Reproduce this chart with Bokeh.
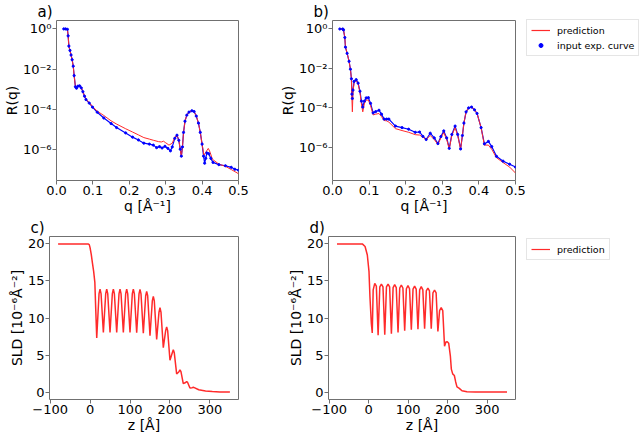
from bokeh.plotting import figure
from bokeh.models import (Range1d, FixedTicker, CustomJSTickFormatter, Legend,
                          LegendItem, Spacer)
from bokeh.layouts import column, row
from bokeh.embed import file_html
from bokeh.resources import INLINE

# ---------------- data ----------------
# panel a) reflectivity
q_a_pred = [0.020, 0.025, 0.030, 0.032, 0.034, 0.037, 0.040, 0.043, 0.046, 0.0485,
            0.052, 0.055, 0.059, 0.0635, 0.068, 0.0725, 0.077, 0.081, 0.090, 0.099,
            0.112, 0.130, 0.150, 0.165, 0.190, 0.209, 0.225, 0.240, 0.255, 0.266,
            0.280, 0.288, 0.294, 0.300, 0.309, 0.318, 0.325, 0.331, 0.336, 0.340,
            0.343, 0.346, 0.349, 0.353, 0.358, 0.364, 0.372, 0.378, 0.384, 0.390,
            0.395, 0.400, 0.405, 0.410, 0.417, 0.422, 0.428, 0.446, 0.464, 0.481,
            0.500]
R_a_pred = [1.0, 1.0, 0.95, 0.45, 0.14, 0.085, 0.05, 0.029, 0.0138, 4.7e-3,
            1.3e-3, 1.1e-3, 1.4e-3, 1.5e-3, 1.2e-3, 7.6e-4, 4.5e-4, 3.1e-4, 2.1e-4, 1.35e-4,
            7.9e-5, 4.8e-5, 2.6e-5, 1.8e-5, 1.05e-5, 7.2e-6, 5.2e-6, 3.8e-6, 3.2e-6, 2.8e-6,
            2.4e-6, 2.3e-6, 2.5e-6, 2.1e-6, 1.6e-6, 2.0e-6, 4.0e-6, 5.1e-6, 2.8e-6, 1.0e-6,
            4.2e-7, 1.26e-6, 6.9e-6, 2.5e-5, 5.0e-5, 7.1e-5, 8.3e-5, 7.6e-5, 4.5e-5, 2.0e-5,
            6.9e-6, 1.8e-6, 5.0e-7, 7.1e-7, 1.1e-6, 7.1e-7, 3.2e-7, 1.8e-7, 1.4e-7, 9.5e-8,
            6.0e-8]
q_a_exp = [0.020, 0.025, 0.030, 0.032, 0.034, 0.037, 0.040, 0.043, 0.046, 0.0485,
           0.052, 0.055, 0.059, 0.0635, 0.068, 0.0725, 0.077, 0.081, 0.090, 0.099,
           0.112, 0.130, 0.150, 0.165, 0.190, 0.209, 0.225, 0.240, 0.255, 0.266,
           0.275, 0.283, 0.290, 0.298, 0.306, 0.313, 0.318, 0.325, 0.331, 0.336,
           0.340, 0.343, 0.346, 0.349, 0.353, 0.358, 0.364, 0.372, 0.378, 0.384,
           0.390, 0.395, 0.400, 0.404, 0.407, 0.410, 0.413, 0.418, 0.424, 0.430,
           0.446, 0.464, 0.480, 0.490, 0.500]
R_a_exp = [1.0, 1.0, 0.95, 0.45, 0.14, 0.085, 0.05, 0.029, 0.0138, 4.7e-3,
           1.3e-3, 1.1e-3, 1.4e-3, 1.45e-3, 1.15e-3, 7.4e-4, 4.4e-4, 3.0e-4, 2.0e-4, 1.25e-4,
           7.0e-5, 3.6e-5, 1.9e-5, 1.2e-5, 6.5e-6, 4.0e-6, 2.9e-6, 2.0e-6, 1.8e-6, 1.6e-6,
           1.2e-6, 1.35e-6, 1.15e-6, 1.4e-6, 1.1e-6, 8.3e-7, 1.3e-6, 3.5e-6, 5.0e-6, 2.8e-6,
           1.0e-6, 4.5e-7, 1.3e-6, 6.9e-6, 2.5e-5, 5.0e-5, 7.1e-5, 8.3e-5, 7.6e-5, 4.5e-5,
           2.0e-5, 6.9e-6, 1.8e-6, 4.5e-7, 2.0e-7, 3.5e-7, 6.5e-7, 6.0e-7, 3.5e-7, 2.2e-7,
           1.7e-7, 1.5e-7, 1.25e-7, 1.0e-7, 9.0e-8]

# panel b) reflectivity
q_b_pred = [0.020, 0.028, 0.030, 0.0336, 0.0354, 0.040, 0.0453, 0.049, 0.0517, 0.0530,
            0.0543, 0.0560, 0.0590, 0.0648, 0.070, 0.075, 0.079, 0.0827, 0.087, 0.092,
            0.098, 0.104, 0.111, 0.118, 0.127, 0.134, 0.141, 0.148, 0.154, 0.172,
            0.190, 0.208, 0.226, 0.238, 0.247, 0.256, 0.267, 0.278, 0.288, 0.296,
            0.304, 0.312, 0.319, 0.326, 0.335, 0.342, 0.350, 0.355, 0.359, 0.365,
            0.372, 0.380, 0.388, 0.395, 0.406, 0.415, 0.426, 0.435, 0.448, 0.466,
            0.484, 0.500]
R_b_pred = [1.0, 1.0, 0.9, 0.37, 0.12, 0.058, 0.023, 9.1e-3, 3.0e-3, 3.0e-4,
            6.3e-5, 6.0e-4, 2.0e-3, 2.5e-3, 1.6e-3, 6.0e-4, 1.6e-4, 6.3e-5, 1.6e-4, 2.5e-4,
            2.5e-4, 1.3e-4, 4.4e-5, 4.8e-5, 5.2e-5, 3.6e-5, 2.3e-5, 2.2e-5, 1.9e-5, 8.9e-6,
            7.1e-6, 5.8e-6, 4.4e-6, 4.2e-6, 3.3e-6, 2.5e-6, 4.0e-6, 2.5e-6, 1.4e-6, 3.0e-6,
            5.6e-6, 2.5e-6, 8.3e-7, 4.0e-6, 1.0e-5, 4.0e-6, 8.3e-7, 4.0e-6, 1.7e-5, 6.3e-5,
            1.0e-4, 1.1e-4, 8.0e-5, 5.2e-5, 1.0e-5, 1.3e-6, 1.3e-6, 8.0e-7, 3.0e-7, 1.7e-7,
            1.0e-7, 5.0e-8]
q_b_exp = [0.020, 0.028, 0.030, 0.0336, 0.0354, 0.040, 0.0453, 0.049, 0.0517, 0.0530,
           0.0543, 0.0560, 0.0590, 0.0648, 0.070, 0.075, 0.079, 0.0827, 0.087, 0.092,
           0.098, 0.104, 0.111, 0.118, 0.127, 0.134, 0.141, 0.148, 0.154, 0.172,
           0.190, 0.208, 0.226, 0.238, 0.247, 0.256, 0.267, 0.278, 0.288, 0.296,
           0.304, 0.312, 0.319, 0.326, 0.335, 0.342, 0.350, 0.355, 0.359, 0.365,
           0.372, 0.380, 0.388, 0.395, 0.406, 0.415, 0.426, 0.435, 0.448, 0.466,
           0.484, 0.500]
R_b_exp = [1.0, 1.0, 0.9, 0.37, 0.12, 0.058, 0.023, 9.1e-3, 3.0e-3, 5.0e-4,
           3.0e-4, 8.0e-4, 2.2e-3, 2.7e-3, 1.8e-3, 7.0e-4, 2.2e-4, 1.1e-4, 2.2e-4, 3.2e-4,
           3.3e-4, 1.7e-4, 5.6e-5, 6.5e-5, 7.6e-5, 4.8e-5, 2.7e-5, 2.7e-5, 2.7e-5, 1.2e-5,
           1.0e-5, 8.3e-6, 5.8e-6, 6.0e-6, 3.6e-6, 2.5e-6, 5.2e-6, 3.0e-6, 1.55e-6, 3.5e-6,
           6.8e-6, 3.0e-6, 8.9e-7, 4.5e-6, 1.2e-5, 4.5e-6, 8.3e-7, 4.0e-6, 1.7e-5, 6.3e-5,
           1.0e-4, 1.1e-4, 8.0e-5, 5.2e-5, 1.0e-5, 1.5e-6, 2.0e-6, 1.1e-6, 3.5e-7, 2.0e-7,
           1.4e-7, 1.0e-7]

# panel c) SLD profile
z_c = [-80, -5, -2, 0, 3, 6, 9, 12, 14, 16.7,
       22.5, 25.0, 27.5, 33.3,
       39.2, 41.7, 44.2, 50.0,
       55.8, 58.3, 60.8, 66.7,
       72.5, 75.0, 77.5, 83.3,
       89.2, 91.7, 94.2, 100.0,
       105.8, 108.3, 110.8, 116.7,
       122.5, 125.0, 127.5, 133.3,
       139.2, 141.7, 144.2, 150.0,
       155.8, 158.3, 160.8, 166.7,
       172.5, 175.0, 177.5, 183.3,
       189.2, 191.7, 194.2, 200.0,
       205.8, 208.3, 210.8, 216.7,
       222.5, 225.0, 227.5, 233.3,
       239.2, 241.7, 244.2, 250.0,
       255.8, 258.3, 260.8, 272, 289, 306, 325, 350]
sld_c = [20.0, 20.0, 19.9, 19.5, 18.6, 17.4, 16.3, 14.8, 11.5, 7.3,
         13.3, 13.9, 13.3, 8.05,
         13.3, 13.9, 13.3, 8.05,
         13.3, 13.9, 13.3, 8.05,
         13.3, 13.9, 13.3, 8.05,
         13.3, 13.9, 13.3, 8.05,
         13.3, 13.9, 13.3, 8.0,
         13.25, 13.85, 13.25, 7.95,
         13.0, 13.6, 13.0, 7.6,
         12.3, 12.9, 12.3, 7.1,
         10.8, 11.4, 10.8, 6.0,
         8.3, 8.8, 8.3, 4.3,
         5.3, 5.7, 5.3, 2.45,
         2.75, 3.0, 2.75, 1.15,
         1.3, 1.4, 1.3, 0.55,
         0.6, 0.65, 0.6, 0.31, 0.16, 0.07, 0.02, 0.0]

# panel d) SLD profile
z_d = [-80, -16, -9, -3.3, 0.9, 3.4, 6.8, 9.2,
       11.5, 15.5, 19.5, 24.0,
       28.3, 32.3, 36.3, 40.8,
       45.1, 49.1, 53.1, 57.6,
       61.9, 65.9, 69.9, 74.4,
       78.7, 82.7, 86.7, 91.2,
       95.5, 99.5, 103.5, 108.0,
       112.3, 116.3, 120.3, 124.8,
       129.1, 133.1, 137.1, 141.6,
       145.9, 149.9, 153.9, 158.4,
       162.7, 166.7, 170.7, 175.2,
       179.5, 183.5, 187.5, 192.0,
       195.5, 199.0, 202.5, 206.7, 209.2, 212.6, 216.8, 220.2, 223.5, 229.4,
       236.1, 248.7, 270, 350]
sld_d = [20.0, 20.0, 19.65, 18.5, 16.3, 12.8, 9.3, 7.97,
         13.8, 14.67, 14.3, 7.66,
         14.2, 14.58, 14.2, 7.75,
         14.2, 14.58, 14.2, 7.88,
         14.1, 14.49, 14.1, 8.06,
         14.05, 14.45, 14.05, 8.28,
         13.95, 14.36, 13.95, 8.42,
         13.9, 14.31, 13.9, 8.5,
         13.8, 14.23, 13.8, 8.55,
         13.65, 14.05, 13.65, 8.55,
         13.4, 13.78, 13.4, 8.19,
         11.0, 11.4, 11.0, 6.2,
         6.75, 6.8, 6.6, 4.9, 3.1, 2.46, 2.24, 1.37, 0.7, 0.5,
         0.18, 0.05, 0.0, 0.0]

q_ticks = [0.0, 0.1, 0.2, 0.3, 0.4, 0.5]
R_ticks = [1e-6, 1e-4, 1e-2, 1e0]
z_ticks = [-100, 0, 100, 200, 300]
sld_ticks = [0, 5, 10, 15, 20]

# ---------------- styling ----------------
FONT = "DejaVu Sans"
FRAME = "#707070"
RED = "#ff2a2a"
BLUE = "#0000ff"

LOG_FMT = CustomJSTickFormatter(code="""
const e = Math.round(Math.log10(tick));
const m = {"-":"\u207b","0":"\u2070","1":"\u00b9","2":"\u00b2","3":"\u00b3","4":"\u2074",
           "5":"\u2075","6":"\u2076","7":"\u2077","8":"\u2078","9":"\u2079"};
let s = "";
for (const c of String(e)) { s += m[c]; }
return "10" + s;
""")
Q_FMT = CustomJSTickFormatter(code="return tick.toFixed(1);")
INT_FMT = CustomJSTickFormatter(code="""
return (tick < 0 ? "\u2212" : "") + Math.abs(tick).toFixed(0);
""")

ROW1_H, ROW2_H = 216, 219
LEFT_W, MID_W, LEG_W = 276, 250, 114


def make_fig(width, height, bl, br, bt, bb, x_range, y_range, title, log=False):
    p = figure(width=width, height=height, x_range=x_range, y_range=y_range,
               y_axis_type="log" if log else "linear",
               output_backend="svg", toolbar_location=None,
               min_border_left=bl, min_border_right=br,
               min_border_top=bt, min_border_bottom=bb, title=title)
    p.title.align = "left"
    p.title.offset = -19
    p.title.standoff = 0
    p.title.text_font = FONT
    p.title.text_font_size = "15px"
    p.title.text_font_style = "normal"
    p.title.text_color = "black"
    p.outline_line_color = FRAME
    p.outline_line_width = 1
    p.xgrid.visible = False
    p.ygrid.visible = False
    for ax in (p.xaxis[0], p.yaxis[0]):
        ax.axis_line_color = None
        ax.major_tick_line_color = FRAME
        ax.major_tick_out = 4
        ax.major_tick_in = 0
        ax.minor_tick_line_color = None
        ax.major_label_text_font = FONT
        ax.major_label_text_font_size = "13px"
        ax.major_label_text_color = "black"
        ax.major_label_standoff = 1
        ax.axis_label_text_font = FONT
        ax.axis_label_text_font_size = "14px"
        ax.axis_label_text_font_style = "normal"
        ax.axis_label_text_color = "black"
        ax.axis_label_standoff = 0
    return p


def legend_fig(height, entries):
    """A bare figure beside a panel that only carries that panel's legend.
    Its renderers hold the panel's series but its ranges lie far outside them,
    so only the legend (with its line / dot handles) is visible."""
    p = figure(width=LEG_W, height=height,
               x_range=Range1d(1000, 1001), y_range=Range1d(1000, 1001),
               output_backend="svg", toolbar_location=None,
               x_axis_location=None, y_axis_location=None,
               min_border_left=0, min_border_right=0, min_border_top=0, min_border_bottom=0)
    p.outline_line_color = None
    p.xgrid.visible = False
    p.ygrid.visible = False
    items = []
    for label, kind, xs, ys in entries:
        if kind == "line":
            r = p.line(xs, ys, line_color=RED, line_width=1.2)
        else:
            r = p.scatter(xs, ys, size=2.0, color=BLUE, marker="circle")
        items.append(LegendItem(label=label, renderers=[r]))
    leg = Legend(items=items, location="top_left")
    leg.label_text_font = FONT
    leg.label_text_font_size = "9.5px"
    leg.label_text_color = "black"
    leg.glyph_width = 19
    leg.glyph_height = 10
    leg.label_height = 12
    leg.label_standoff = 7
    leg.spacing = 3
    leg.padding = 4
    leg.margin = 0
    leg.border_line_color = "#cccccc"
    leg.border_line_width = 1
    leg.background_fill_alpha = 0.8
    p.add_layout(leg)
    return p


def refl_panel(width, bl, br, q_pred, r_pred, q_exp, r_exp, ylog, title):
    p = make_fig(width, ROW1_H, bl, br, 17, 33, Range1d(0.0, 0.5),
                 Range1d(10 ** ylog[0], 10 ** ylog[1]), title, log=True)
    p.line(q_exp, r_exp, line_color=BLUE, line_width=1.2)
    p.line(q_pred, r_pred, line_color=RED, line_width=1.0)
    p.scatter(q_exp, r_exp, size=2.2, color=BLUE, marker="circle")
    p.xaxis.ticker = FixedTicker(ticks=q_ticks, minor_ticks=[])
    p.yaxis.ticker = FixedTicker(ticks=R_ticks, minor_ticks=[])
    p.xaxis.formatter = Q_FMT
    p.yaxis.formatter = LOG_FMT
    p.xaxis.axis_label = "q [Å\u207b\u00b9]"
    p.yaxis.axis_label = "R(q)"
    return p


def sld_panel(width, bl, br, z, sld, title):
    p = make_fig(width, ROW2_H, bl, br, 18, 33, Range1d(-101.5, 371.5),
                 Range1d(-1.0, 21.0), title)
    p.line(z, sld, line_color=RED, line_width=1.5)
    p.xaxis.ticker = FixedTicker(ticks=z_ticks, minor_ticks=[])
    p.yaxis.ticker = FixedTicker(ticks=sld_ticks, minor_ticks=[])
    p.xaxis.formatter = INT_FMT
    p.yaxis.formatter = INT_FMT
    p.xaxis.axis_label = "z [Å]"
    p.yaxis.axis_label = "SLD [10\u207b\u2076Å\u207b\u00b2]"
    return p


pa = refl_panel(LEFT_W, 49, 38, q_a_pred, R_a_pred, q_a_exp, R_a_exp, (-7.56, 0.42), "a)")
pb = refl_panel(MID_W, 52, 11, q_b_pred, R_b_pred, q_b_exp, R_b_exp, (-7.68, 0.43), "b)")
pc = sld_panel(LEFT_W, 49, 38, z_c, sld_c, "c)")
pd = sld_panel(MID_W, 52, 11, z_d, sld_d, "d)")

lb = legend_fig(60, [("prediction", "line", q_b_pred, R_b_pred),
                     ("input exp. curve", "dot", q_b_exp, R_b_exp)])
ld = legend_fig(40, [("prediction", "line", z_d, sld_d)])

right_b = column(Spacer(width=LEG_W, height=19), lb)
right_d = column(Spacer(width=LEG_W, height=22), ld)

layout = column(row(pa, pb, right_b), row(pc, pd, right_d))

with open("out.html", "w", encoding="utf-8") as f:
    f.write(file_html(layout, INLINE))
